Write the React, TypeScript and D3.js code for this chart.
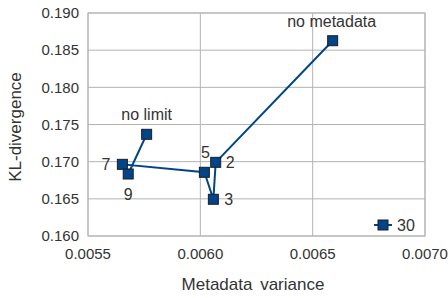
import React from "react";
import * as d3 from "d3";

const labels = ["no metadata", "2", "3", "5", "7", "9", "no limit"];
const xValues = [0.006589, 0.0060684, 0.006058, 0.006018, 0.005653, 0.005679, 0.005761];
const yValues = [0.18627, 0.16991, 0.16494, 0.16857, 0.16964, 0.16834, 0.17368];
const xTicks = [0.0055, 0.006, 0.0065, 0.007];
const yTicks = [0.16, 0.165, 0.17, 0.175, 0.18, 0.185, 0.19];
const seriesName = "30";

// label placement: [dx, dy, anchor]
const labelPos: Record<string, [number, number, string]> = {
  "no metadata": [-1, -14, "middle"],
  "2": [10, 6, "start"],
  "3": [11, 6, "start"],
  "5": [1, -14, "middle"],
  "7": [-12, 6, "end"],
  "9": [0, 26, "middle"],
  "no limit": [0, -14, "middle"],
};

export default function App() {
  const W = 448, H = 298;
  const left = 88, right = 425, top = 13, bottom = 236;
  const x = d3.scaleLinear().domain([0.0055, 0.007]).range([left, right]);
  const y = d3.scaleLinear().domain([0.16, 0.19]).range([bottom, top]);
  const pts = xValues.map((v, i) => [x(v), y(yValues[i])] as [number, number]);
  const line = d3.line()(pts) || "";
  const font = "'Liberation Sans', Arial, sans-serif";
  const blue = "#004586";
  const grid = "#b3b3b3";
  return (
    <svg width={W} height={H} style={{ position: "absolute", left: 0, top: 0, background: "#fff" }} fontFamily={font}>
      <rect x={0} y={0} width={W} height={H} fill="#fff" />
      {yTicks.map((t) => (
        <g key={"y" + t}>
          <line x1={left} x2={right} y1={y(t)} y2={y(t)} stroke={grid} strokeWidth={1} />
          <text x={left - 9} y={y(t)} dy="0.35em" textAnchor="end" fontSize={15} fill="#333">
            {d3.format(".3f")(t)}
          </text>
        </g>
      ))}
      {xTicks.map((t) => (
        <g key={"x" + t}>
          <line x1={x(t)} x2={x(t)} y1={top} y2={bottom} stroke={grid} strokeWidth={1} />
          <text x={x(t)} y={bottom + 18} dy="0.35em" textAnchor="middle" fontSize={15} fill="#333">
            {d3.format(".4f")(t)}
          </text>
        </g>
      ))}
      <rect x={left} y={top} width={right - left} height={bottom - top} fill="none" stroke={grid} />
      <path d={line} fill="none" stroke={blue} strokeWidth={2} />
      {pts.map(([px, py], i) => (
        <rect key={i} x={px - 5} y={py - 5} width={10} height={10} fill={blue} stroke="#1c1c2c" strokeWidth={1} />
      ))}
      {pts.map(([px, py], i) => {
        const [dx, dy, anchor] = labelPos[labels[i]];
        return (
          <text key={"l" + i} x={px + dx} y={py + dy} textAnchor={anchor as any} fontSize={16} fill="#333">
            {labels[i]}
          </text>
        );
      })}
      <g>
        <line x1={374} x2={392} y1={225} y2={225} stroke={blue} strokeWidth={2} />
        <rect x={378} y={220} width={10} height={10} fill={blue} stroke="#1c1c2c" strokeWidth={1} />
        <text x={397} y={225} dy="0.35em" fontSize={16} fill="#333">{seriesName}</text>
      </g>
      <text
        transform={`translate(15,127) rotate(-90)`}
        textAnchor="middle"
        dy="0.35em"
        fontSize={17}
        fill="#333"
      >
        KL-divergence
      </text>
      <text x={253} y={284} dy="0.35em" textAnchor="middle" fontSize={17} fill="#333" style={{ wordSpacing: "3px" }}>
        Metadata variance
      </text>
    </svg>
  );
}
